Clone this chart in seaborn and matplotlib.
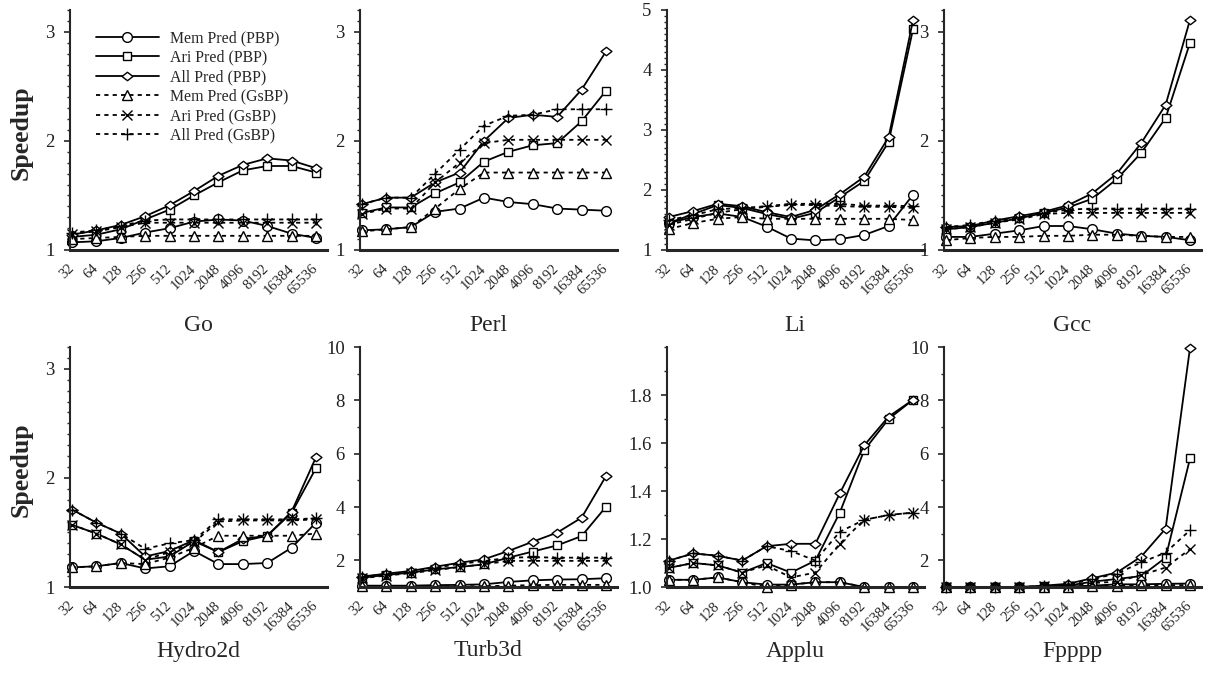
import numpy as np
import pandas as pd
import matplotlib
matplotlib.use("Agg")
import matplotlib.pyplot as plt
import matplotlib.transforms as mtransforms
from matplotlib.path import Path
from matplotlib.ticker import MultipleLocator, FormatStrFormatter
import seaborn as sns

# ---------------- data ----------------
sizes = ["32", "64", "128", "256", "512", "1024", "2048", "4096", "8192", "16384", "65536"]
series_names = ["Mem Pred (PBP)", "Ari Pred (PBP)", "All Pred (PBP)",
                "Mem Pred (GsBP)", "Ari Pred (GsBP)", "All Pred (GsBP)"]
benchmarks = ["Go", "Perl", "Li", "Gcc", "Hydro2d", "Turb3d", "Applu", "Fpppp"]

go = {
    "Mem Pred (PBP)":  [1.07, 1.08, 1.11, 1.16, 1.20, 1.26, 1.28, 1.27, 1.22, 1.15, 1.11],
    "Ari Pred (PBP)":  [1.12, 1.14, 1.19, 1.28, 1.37, 1.50, 1.62, 1.73, 1.77, 1.77, 1.71],
    "All Pred (PBP)":  [1.14, 1.18, 1.23, 1.31, 1.41, 1.54, 1.68, 1.78, 1.84, 1.82, 1.75],
    "Mem Pred (GsBP)": [1.10, 1.11, 1.12, 1.13, 1.13, 1.13, 1.13, 1.13, 1.13, 1.13, 1.13],
    "Ari Pred (GsBP)": [1.15, 1.17, 1.21, 1.25, 1.25, 1.25, 1.25, 1.25, 1.25, 1.25, 1.25],
    "All Pred (GsBP)": [1.16, 1.18, 1.22, 1.27, 1.28, 1.28, 1.28, 1.28, 1.28, 1.28, 1.28],
}
perl = {
    "Mem Pred (PBP)":  [1.18, 1.19, 1.21, 1.35, 1.38, 1.48, 1.44, 1.42, 1.38, 1.37, 1.36],
    "Ari Pred (PBP)":  [1.34, 1.39, 1.39, 1.52, 1.62, 1.81, 1.90, 1.96, 1.98, 2.18, 2.46],
    "All Pred (PBP)":  [1.42, 1.48, 1.48, 1.62, 1.71, 2.00, 2.21, 2.24, 2.22, 2.47, 2.82],
    "Mem Pred (GsBP)": [1.17, 1.19, 1.21, 1.38, 1.56, 1.71, 1.71, 1.71, 1.71, 1.71, 1.71],
    "Ari Pred (GsBP)": [1.33, 1.38, 1.38, 1.62, 1.80, 1.98, 2.01, 2.01, 2.01, 2.01, 2.01],
    "All Pred (GsBP)": [1.42, 1.48, 1.48, 1.70, 1.92, 2.14, 2.23, 2.24, 2.29, 2.29, 2.29],
}
li = {
    "Mem Pred (PBP)":  [1.45, 1.55, 1.61, 1.55, 1.39, 1.19, 1.16, 1.18, 1.25, 1.40, 1.92],
    "Ari Pred (PBP)":  [1.45, 1.60, 1.75, 1.70, 1.60, 1.52, 1.62, 1.88, 2.15, 2.80, 4.68],
    "All Pred (PBP)":  [1.55, 1.65, 1.77, 1.73, 1.63, 1.55, 1.67, 1.93, 2.22, 2.88, 4.83],
    "Mem Pred (GsBP)": [1.35, 1.45, 1.52, 1.55, 1.52, 1.52, 1.52, 1.52, 1.52, 1.52, 1.50],
    "Ari Pred (GsBP)": [1.42, 1.52, 1.62, 1.68, 1.72, 1.75, 1.75, 1.73, 1.72, 1.72, 1.70],
    "All Pred (GsBP)": [1.50, 1.58, 1.68, 1.70, 1.73, 1.77, 1.77, 1.77, 1.74, 1.74, 1.73],
}
gcc = {
    "Mem Pred (PBP)":  [1.12, 1.12, 1.15, 1.18, 1.22, 1.22, 1.19, 1.15, 1.13, 1.12, 1.09],
    "Ari Pred (PBP)":  [1.19, 1.21, 1.25, 1.29, 1.34, 1.39, 1.47, 1.65, 1.89, 2.21, 2.90],
    "All Pred (PBP)":  [1.21, 1.22, 1.27, 1.31, 1.35, 1.41, 1.52, 1.70, 1.98, 2.33, 3.11],
    "Mem Pred (GsBP)": [1.09, 1.11, 1.12, 1.12, 1.13, 1.13, 1.14, 1.14, 1.13, 1.12, 1.12],
    "Ari Pred (GsBP)": [1.19, 1.21, 1.25, 1.28, 1.33, 1.34, 1.34, 1.34, 1.34, 1.34, 1.34],
    "All Pred (GsBP)": [1.21, 1.23, 1.27, 1.30, 1.34, 1.37, 1.38, 1.38, 1.38, 1.38, 1.38],
}
hydro2d = {
    "Mem Pred (PBP)":  [1.18, 1.19, 1.22, 1.17, 1.19, 1.33, 1.21, 1.21, 1.22, 1.36, 1.59],
    "Ari Pred (PBP)":  [1.57, 1.49, 1.39, 1.25, 1.28, 1.42, 1.32, 1.42, 1.47, 1.68, 2.09],
    "All Pred (PBP)":  [1.71, 1.59, 1.49, 1.28, 1.33, 1.43, 1.32, 1.44, 1.47, 1.69, 2.19],
    "Mem Pred (GsBP)": [1.18, 1.19, 1.22, 1.21, 1.27, 1.36, 1.47, 1.47, 1.47, 1.47, 1.49],
    "Ari Pred (GsBP)": [1.57, 1.49, 1.39, 1.25, 1.32, 1.41, 1.60, 1.61, 1.61, 1.61, 1.62],
    "All Pred (GsBP)": [1.71, 1.59, 1.49, 1.35, 1.40, 1.43, 1.62, 1.62, 1.62, 1.62, 1.63],
}
turb3d = {
    "Mem Pred (PBP)":  [1.05, 1.05, 1.05, 1.07, 1.08, 1.10, 1.19, 1.25, 1.28, 1.29, 1.33],
    "Ari Pred (PBP)":  [1.35, 1.45, 1.54, 1.66, 1.75, 1.85, 2.10, 2.33, 2.56, 2.91, 4.01],
    "All Pred (PBP)":  [1.39, 1.50, 1.60, 1.76, 1.91, 2.04, 2.35, 2.70, 3.04, 3.60, 5.16],
    "Mem Pred (GsBP)": [1.02, 1.02, 1.02, 1.03, 1.03, 1.03, 1.05, 1.07, 1.08, 1.08, 1.08],
    "Ari Pred (GsBP)": [1.33, 1.43, 1.52, 1.63, 1.75, 1.85, 1.98, 1.98, 1.98, 1.98, 1.98],
    "All Pred (GsBP)": [1.38, 1.48, 1.58, 1.72, 1.87, 1.97, 2.10, 2.12, 2.10, 2.10, 2.10],
}
applu = {
    "Mem Pred (PBP)":  [1.03, 1.03, 1.04, 1.02, 1.01, 1.01, 1.02, 1.02, 1.00, 1.00, 1.00],
    "Ari Pred (PBP)":  [1.08, 1.10, 1.09, 1.06, 1.10, 1.06, 1.11, 1.31, 1.57, 1.70, 1.78],
    "All Pred (PBP)":  [1.11, 1.14, 1.13, 1.11, 1.17, 1.18, 1.18, 1.39, 1.59, 1.71, 1.78],
    "Mem Pred (GsBP)": [1.03, 1.03, 1.04, 1.02, 1.00, 1.01, 1.02, 1.02, 1.00, 1.00, 1.00],
    "Ari Pred (GsBP)": [1.08, 1.10, 1.09, 1.06, 1.09, 1.04, 1.06, 1.18, 1.28, 1.30, 1.31],
    "All Pred (GsBP)": [1.11, 1.14, 1.13, 1.11, 1.17, 1.15, 1.11, 1.23, 1.28, 1.30, 1.31],
}
fpppp = {
    "Mem Pred (PBP)":  [1.00, 1.00, 1.00, 1.00, 1.00, 1.02, 1.05, 1.10, 1.10, 1.12, 1.13],
    "Ari Pred (PBP)":  [1.00, 1.00, 1.00, 1.00, 1.02, 1.05, 1.20, 1.30, 1.41, 2.10, 5.82],
    "All Pred (PBP)":  [1.00, 1.00, 1.00, 1.00, 1.05, 1.12, 1.33, 1.54, 2.14, 3.19, 9.97],
    "Mem Pred (GsBP)": [1.00, 1.00, 1.00, 1.00, 1.00, 1.00, 1.03, 1.05, 1.07, 1.07, 1.07],
    "Ari Pred (GsBP)": [1.00, 1.00, 1.00, 1.00, 1.02, 1.05, 1.15, 1.20, 1.45, 1.73, 2.42],
    "All Pred (GsBP)": [1.00, 1.00, 1.00, 1.00, 1.03, 1.08, 1.30, 1.50, 1.92, 2.29, 3.13],
}
bench_data = [go, perl, li, gcc, hydro2d, turb3d, applu, fpppp]

# ---------------- style ----------------
sns.set_style("ticks")
plt.rcParams["font.family"] = ["Liberation Serif", "DejaVu Serif"]
plt.rcParams["lines.scale_dashes"] = False

diamond = Path([(-1, 0), (0, 0.78), (1, 0), (0, -0.78), (-1, 0)],
               [Path.MOVETO, Path.LINETO, Path.LINETO, Path.LINETO, Path.CLOSEPOLY])
styles = {
    "Mem Pred (PBP)":  dict(marker="o", ms=7.0, ls="-"),
    "Ari Pred (PBP)":  dict(marker="s", ms=6.0, ls="-"),
    "All Pred (PBP)":  dict(marker=diamond, ms=7.8, ls="-"),
    "Mem Pred (GsBP)": dict(marker="^", ms=7.0, ls=(0, (3, 3))),
    "Ari Pred (GsBP)": dict(marker="x", ms=6.5, ls=(0, (3, 3))),
    "All Pred (GsBP)": dict(marker="+", ms=8.0, ls=(0, (3, 3))),
}

ylims = {"Go": (1, 3.2), "Perl": (1, 3.2), "Li": (1, 5), "Gcc": (1, 3.2),
         "Hydro2d": (1, 3.2), "Turb3d": (1, 10), "Applu": (1.0, 2.0), "Fpppp": (1, 10)}
majors = {"Go": [1, 2, 3], "Perl": [1, 2, 3], "Li": [1, 2, 3, 4, 5], "Gcc": [1, 2, 3],
          "Hydro2d": [1, 2, 3], "Turb3d": [2, 4, 6, 8, 10],
          "Applu": [1.0, 1.2, 1.4, 1.6, 1.8], "Fpppp": [2, 4, 6, 8, 10]}
minors = {"Go": 0.1, "Perl": 0.1, "Li": 0.1, "Gcc": 0.1, "Hydro2d": 0.1,
          "Turb3d": 1, "Applu": 0.1, "Fpppp": 1}

W, H = 1210, 677
fig = plt.figure(figsize=(W / 100, H / 100), dpi=100)

lefts = [70, 360, 667, 944]
row_bottoms = [250, 587]
ax_w, ax_h = 257, 240
title_y = [325, 651]

positions = np.arange(len(sizes))
axes = []
for i, (name, data) in enumerate(zip(benchmarks, bench_data)):
    r, c = divmod(i, 4)
    left = lefts[c]
    bottom = row_bottoms[r]
    ax = fig.add_axes([left / W, (H - bottom) / H, ax_w / W, ax_h / H])
    axes.append(ax)
    for s in series_names:
        st = styles[s]
        df = pd.DataFrame({"pos": positions, "speedup": data[s]})
        sns.lineplot(data=df, x="pos", y="speedup", ax=ax, color="black",
                     marker=st["marker"], markersize=st["ms"], linestyle=st["ls"],
                     markerfacecolor="white", markeredgecolor="black",
                     markeredgewidth=1.0, linewidth=1.3, legend=False,
                     label=s, clip_on=False, errorbar=None)
    ax.set_xlim(-0.08, 10.45)
    ax.set_ylim(*ylims[name])
    ax.set_xlabel("")
    ax.set_ylabel("")
    ax.set_xticks(positions)
    ax.set_xticklabels(sizes, rotation=45, ha="right", va="center",
                       rotation_mode="anchor", fontsize=10.5)
    offset = mtransforms.ScaledTranslation(7 / 100, 0, fig.dpi_scale_trans)
    for lab in ax.get_xticklabels():
        lab.set_transform(lab.get_transform() + offset)
    ax.tick_params(axis="x", length=0, pad=12)
    ax.set_yticks(majors[name])
    ax.yaxis.set_minor_locator(MultipleLocator(minors[name]))
    if name == "Applu":
        ax.yaxis.set_major_formatter(FormatStrFormatter("%.1f"))
    ax.tick_params(axis="y", which="major", length=4, width=1.2, pad=7,
                   labelsize=13.5, labelcolor="#222222")
    ax.tick_params(axis="y", which="minor", length=2.5, width=1.0)
    sns.despine(ax=ax)
    ax.spines["left"].set_linewidth(1.5)
    ax.spines["bottom"].set_linewidth(2.2)
    ax.set_facecolor("none")
    fig.text((left + 128) / W, 1 - title_y[r] / H, name, ha="center", va="center",
             fontsize=17)

# legend on first axes
handles = axes[0].get_lines()[:6]
axes[0].legend(handles, series_names, loc="upper left",
               bbox_to_anchor=(0.10, 0.915), frameon=False, fontsize=11.4,
               handlelength=4.0, handletextpad=0.7, labelspacing=0.22,
               borderpad=0, borderaxespad=0)

for r in range(2):
    yc = (row_bottoms[r] - ax_h / 2 + 3)
    fig.text(21 / W, 1 - yc / H, "Speedup", rotation=90, ha="center", va="center",
             fontsize=18.5, fontweight="bold")

fig.savefig("out.png", dpi=100)
